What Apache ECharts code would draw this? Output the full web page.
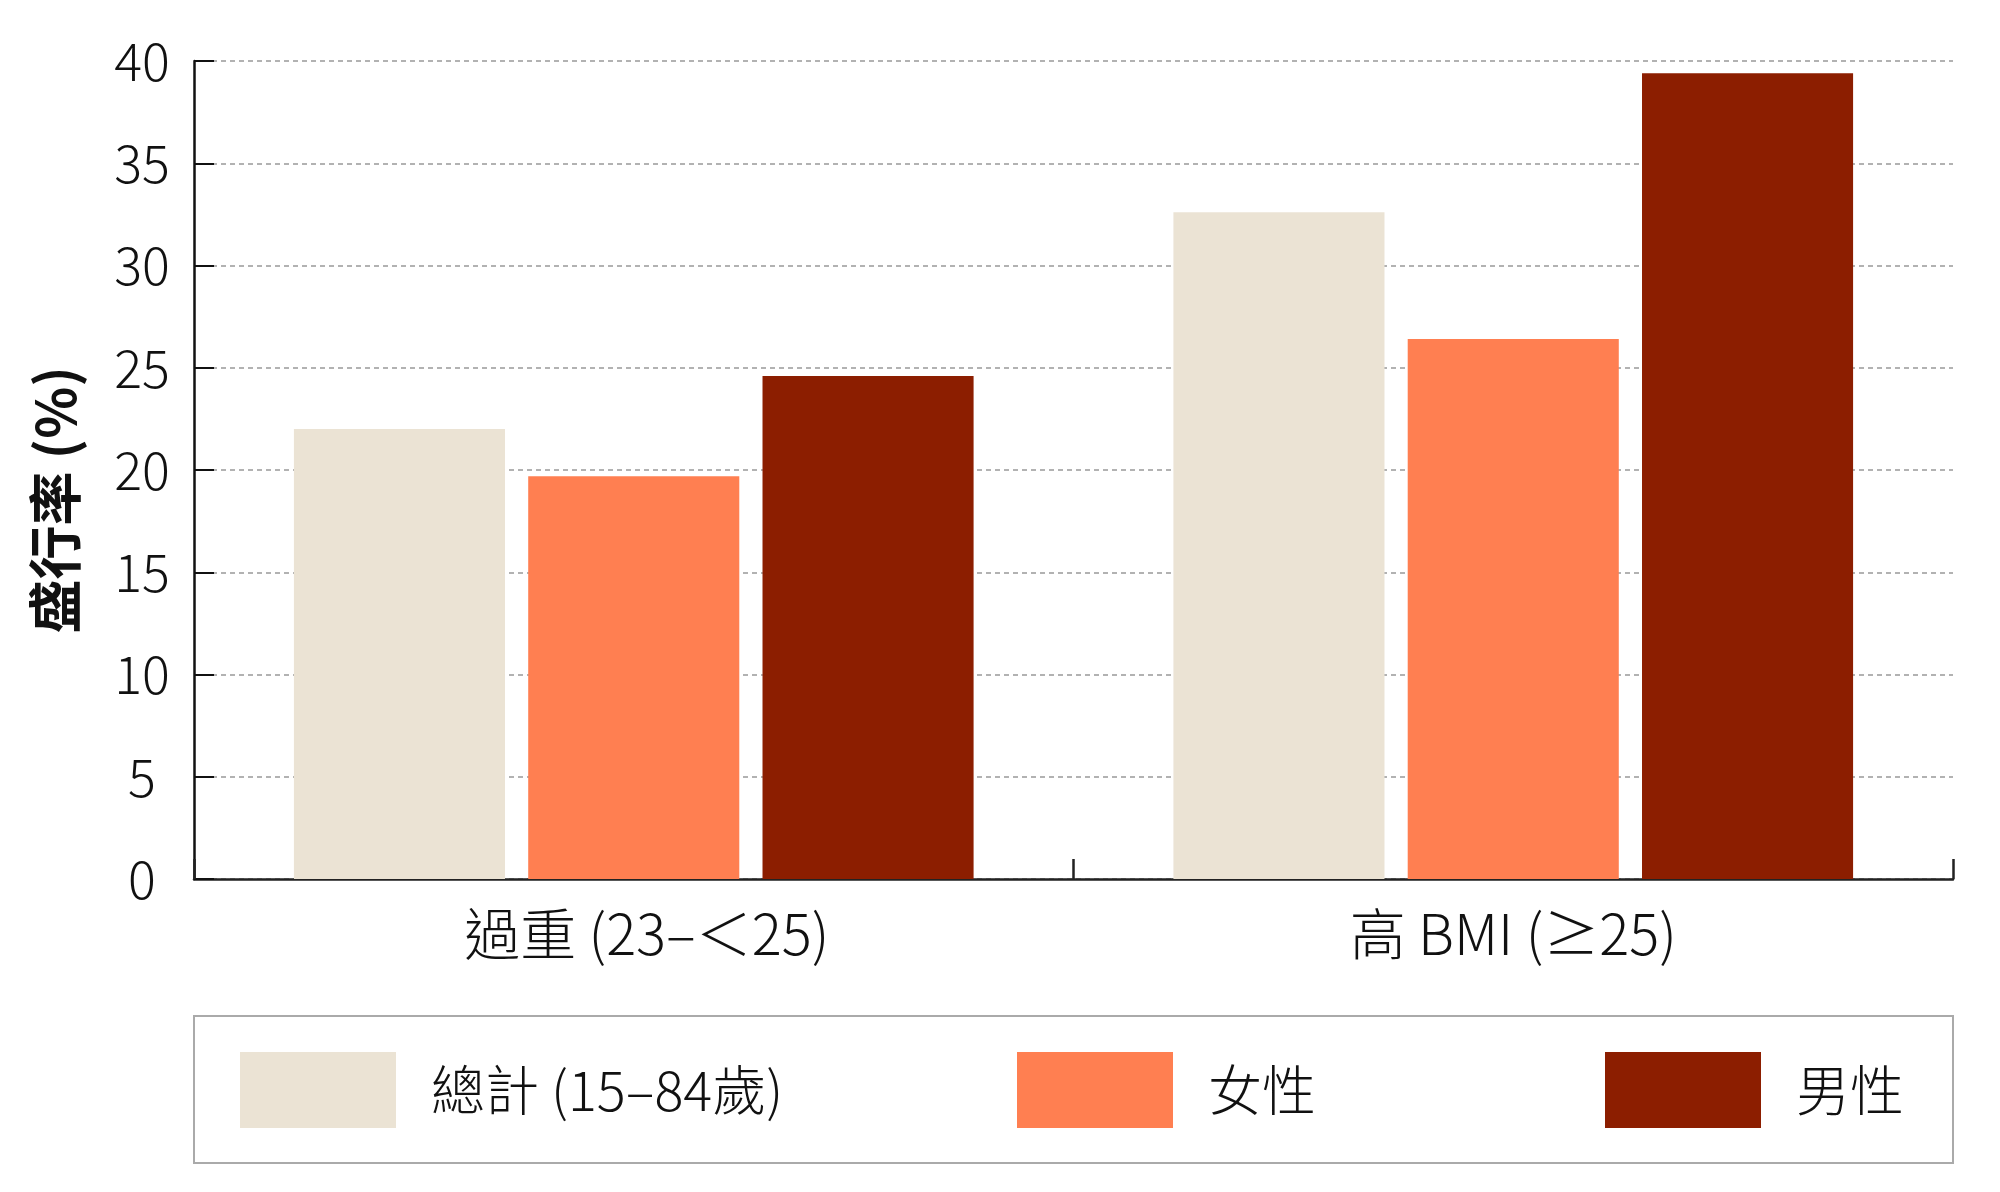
<!DOCTYPE html>
<html>
<head>
<meta charset="utf-8">
<script src="https://cdn.jsdelivr.net/npm/echarts@6/dist/echarts.min.js"></script>
<style>
html,body{margin:0;padding:0;background:#fff;}
#main{width:2000px;height:1192px;}
</style>
</head>
<body>
<div id="main"></div>
<script>
const categories = ['過重 (23–＜25)', '高 BMI (≥25)'];
const seriesNames = ['總計 (15–84歲)', '女性', '男性'];
const totalValues = [22.0, 32.6];
const femaleValues = [19.7, 26.4];
const maleValues = [24.6, 39.4];
const yTicks = [0, 5, 10, 15, 20, 25, 30, 35, 40];
const colors = ['#EBE3D4', '#FF7F51', '#8C1E00'];

const FONT = '"Noto Sans CJK TC", "Noto Sans CJK SC", "Noto Sans", sans-serif';
const chart = echarts.init(document.getElementById('main'));

const seriesData = [totalValues, femaleValues, maleValues];
const legendLefts = [240, 1017, 1605];
const labelShift = [[0, 0, 0, 26], [0, 0, 0, 0]];

const option = {
  backgroundColor: '#ffffff',
  animation: false,
  textStyle: { fontFamily: FONT },
  grid: { left: 194, right: 47, top: 61, bottom: 313, containLabel: false },
  legend: seriesNames.map((n, i) => ({
    data: [n],
    left: legendLefts[i],
    top: 1052,
    padding: 0,
    itemWidth: 156,
    itemHeight: 76,
    icon: 'rect',
    selectedMode: false,
    textStyle: { fontFamily: FONT, fontSize: 54, fontWeight: 300, color: '#111', padding: [0, 0, 0, 30] }
  })),
  graphic: [{
    type: 'rect',
    shape: { x: 194, y: 1016, width: 1759, height: 147 },
    style: { fill: 'none', stroke: '#aaaaaa', lineWidth: 2 },
    silent: true
  }],
  xAxis: {
    type: 'category',
    data: categories.map((c, i) => ({ value: c, textStyle: { padding: labelShift[i] } })),
    axisLine: { show: true, lineStyle: { color: '#222', width: 2.5 } },
    axisTick: { show: true, inside: true, length: 20, lineStyle: { color: '#222', width: 2.5 } },
    axisLabel: { fontFamily: FONT, fontSize: 56, fontWeight: 300, color: '#111', margin: 27 },
    splitLine: { show: false }
  },
  yAxis: {
    type: 'value',
    min: yTicks[0],
    max: yTicks[yTicks.length - 1],
    interval: yTicks[1] - yTicks[0],
    name: '盛行率 (%)',
    nameLocation: 'middle',
    nameGap: 112,
    nameRotate: 90,
    nameTextStyle: { fontFamily: FONT, fontSize: 54, fontWeight: 'bold', color: '#111', padding: [0, 60, 0, 0] },
    axisLine: { show: true, lineStyle: { color: '#111', width: 2.5 } },
    axisTick: { show: true, inside: true, length: 20, lineStyle: { color: '#111', width: 2 } },
    axisLabel: { fontFamily: FONT, fontSize: 52, fontWeight: 300, color: '#111', margin: 52, align: 'center' },
    splitLine: { show: true, lineStyle: { color: '#999', type: [5, 4], width: 1.5 } }
  },
  series: seriesNames.map((n, i) => ({
    name: n,
    type: 'bar',
    data: seriesData[i],
    barWidth: '24%',
    barGap: '11%',
    itemStyle: { color: colors[i] }
  }))
};
chart.setOption(option);
</script>
</body>
</html>
